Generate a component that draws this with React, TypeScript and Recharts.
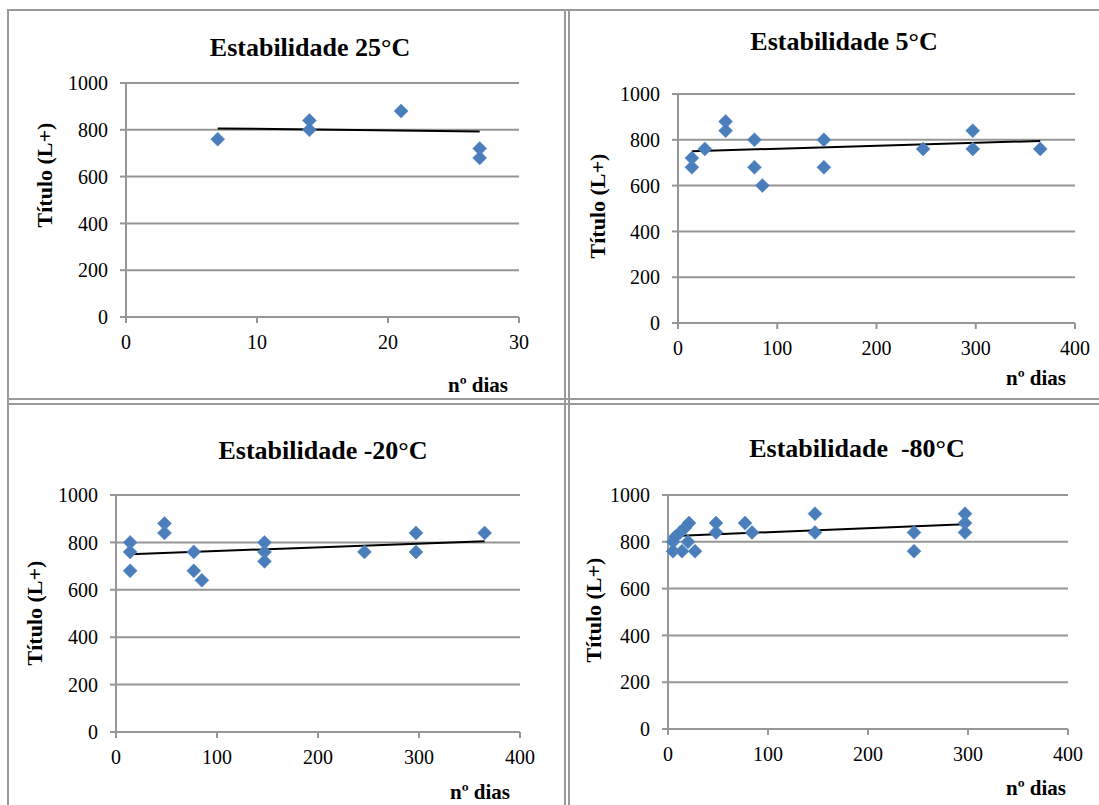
import { CartesianGrid, ReferenceLine, Scatter, ScatterChart, XAxis, YAxis } from "recharts";

// Estabilidade 25°C
const days25 = [7, 14, 14, 21, 27, 27];
const titer25 = [760, 840, 800, 880, 720, 680];
const trendDays25 = [7, 27];
const trendTiter25 = [806, 793];

// Estabilidade 5°C
const days5 = [14, 14, 27, 48, 48, 77, 77, 85, 147, 147, 247, 297, 297, 365];
const titer5 = [720, 680, 760, 880, 840, 800, 680, 600, 800, 680, 760, 840, 760, 760];
const trendDays5 = [14, 365];
const trendTiter5 = [750, 795];

// Estabilidade -20°C
const days20 = [14, 14, 14, 48, 48, 77, 77, 85, 147, 147, 147, 246, 297, 297, 365];
const titer20 = [800, 760, 680, 880, 840, 760, 680, 640, 800, 760, 720, 760, 840, 760, 840];
const trendDays20 = [14, 365];
const trendTiter20 = [750, 805];

// Estabilidade -80°C
const days80 = [5, 5, 7, 12, 14, 17, 20, 21, 27, 48, 48, 77, 84, 147, 147, 246, 246, 297, 297, 297];
const titer80 = [800, 760, 820, 840, 760, 860, 800, 880, 760, 880, 840, 880, 840, 920, 840, 840, 760, 920, 880, 840];
const trendDays80 = [7, 297];
const trendTiter80 = [825, 875];

const yTicks = [0, 200, 400, 600, 800, 1000];
const xTicksShort = [0, 10, 20, 30];
const xTicksLong = [0, 100, 200, 300, 400];

const FONT = "Liberation Serif";
const GRID = "#969696";
const BLUE = "#4a7ebb";

const zip = (xs: number[], ys: number[]) => xs.map((x, i) => ({ x, y: ys[i] }));

function Diamond(props: any) {
  const { cx, cy } = props;
  const r = 7;
  return (
    <polygon
      points={`${cx},${cy - r} ${cx + r},${cy} ${cx},${cy + r} ${cx - r},${cy}`}
      fill={BLUE}
      stroke="#5b8cc8"
      strokeWidth={0.6}
    />
  );
}

function XTick(props: any) {
  const { x, y, payload } = props;
  return (
    <text x={x} y={y} dy="0.71em" textAnchor="middle" fill="#000" fontSize={20} fontFamily={FONT}>
      {payload.value}
    </text>
  );
}

function YTick(props: any) {
  const { x, y, payload } = props;
  return (
    <text x={x} y={y} dy="0.355em" textAnchor="end" fill="#000" fontSize={20} fontFamily={FONT}>
      {payload.value}
    </text>
  );
}

type PanelProps = {
  title: string;
  days: number[];
  titer: number[];
  trendDays: number[];
  trendTiter: number[];
  xMax: number;
  xTicks: number[];
  plot: { x: number; y: number; w: number; h: number };
  titlePos: [number, number];
  yLabelPos: [number, number];
  xLabelPos: [number, number];
};

const YW = 80;
const XH = 50;
const MT = 10;
const MR = 30;

function Panel(p: PanelProps) {
  const data = zip(p.days, p.titer);
  const trend = zip(p.trendDays, p.trendTiter);
  const text = { position: "absolute" as const, fontFamily: FONT, fontWeight: 700, color: "#000", whiteSpace: "pre" as const };
  return (
    <>
      <div style={{ position: "absolute", left: p.plot.x - YW, top: p.plot.y - MT }}>
        <ScatterChart
          width={p.plot.w + YW + MR}
          height={p.plot.h + MT + XH}
          margin={{ top: MT, right: MR, left: 0, bottom: 0 }}
        >
          <CartesianGrid vertical={false} stroke={GRID} strokeWidth={2} />
          <XAxis
            type="number"
            dataKey="x"
            domain={[0, p.xMax]}
            ticks={p.xTicks}
            height={XH}
            axisLine={{ stroke: GRID, strokeWidth: 2 }}
            tickLine={{ stroke: GRID, strokeWidth: 2 }}
            tickSize={6}
            tickMargin={12}
            tick={XTick}
          />
          <YAxis
            type="number"
            dataKey="y"
            domain={[0, 1000]}
            ticks={yTicks}
            width={YW}
            axisLine={{ stroke: GRID, strokeWidth: 2 }}
            tickLine={{ stroke: GRID, strokeWidth: 2 }}
            tickSize={6}
            tickMargin={12}
            tick={YTick}
          />
          <Scatter data={data} shape={Diamond} isAnimationActive={false} />
          <ReferenceLine segment={[trend[0], trend[1]]} stroke="#000" strokeWidth={2} />
        </ScatterChart>
      </div>
      <div style={{ ...text, fontSize: 26, left: p.titlePos[0], top: p.titlePos[1], transform: "translate(-50%, -50%)" }}>
        {p.title}
      </div>
      <div style={{ ...text, fontSize: 22, left: p.yLabelPos[0], top: p.yLabelPos[1], transform: "translate(-50%, -50%) rotate(-90deg)" }}>
        Título (L+)
      </div>
      <div style={{ ...text, fontSize: 21, left: p.xLabelPos[0], top: p.xLabelPos[1], transform: "translate(-50%, -50%)" }}>
        nº dias
      </div>
    </>
  );
}

const line = (left: number, top: number, width: number, height: number) => (
  <div style={{ position: "absolute", left, top, width, height, background: "#9a9a9a" }} />
);

export default function App() {
  return (
    <div style={{ position: "absolute", left: 0, top: 0, width: 1099, height: 805, background: "#fff", overflow: "hidden" }}>
      {line(7, 9, 1092, 2)}
      {line(7, 9, 2, 796)}
      {line(564, 9, 2, 796)}
      {line(568, 9, 2, 796)}
      {line(7, 398, 1092, 2)}
      {line(7, 403, 1092, 2)}
      <Panel
        title="Estabilidade 25°C"
        days={days25}
        titer={titer25}
        trendDays={trendDays25}
        trendTiter={trendTiter25}
        xMax={30}
        xTicks={xTicksShort}
        plot={{ x: 126, y: 83, w: 393, h: 234 }}
        titlePos={[310, 48]}
        yLabelPos={[45, 175]}
        xLabelPos={[478, 385]}
      />
      <Panel
        title="Estabilidade 5°C"
        days={days5}
        titer={titer5}
        trendDays={trendDays5}
        trendTiter={trendTiter5}
        xMax={400}
        xTicks={xTicksLong}
        plot={{ x: 678, y: 94, w: 397, h: 229 }}
        titlePos={[844, 42]}
        yLabelPos={[598, 206]}
        xLabelPos={[1036, 378]}
      />
      <Panel
        title="Estabilidade -20°C"
        days={days20}
        titer={titer20}
        trendDays={trendDays20}
        trendTiter={trendTiter20}
        xMax={400}
        xTicks={xTicksLong}
        plot={{ x: 116, y: 495, w: 404, h: 237 }}
        titlePos={[323, 451]}
        yLabelPos={[35, 613]}
        xLabelPos={[480, 792]}
      />
      <Panel
        title="Estabilidade  -80°C"
        days={days80}
        titer={titer80}
        trendDays={trendDays80}
        trendTiter={trendTiter80}
        xMax={400}
        xTicks={xTicksLong}
        plot={{ x: 668, y: 495, w: 400, h: 234 }}
        titlePos={[857, 449]}
        yLabelPos={[594, 610]}
        xLabelPos={[1036, 788]}
      />
    </div>
  );
}
